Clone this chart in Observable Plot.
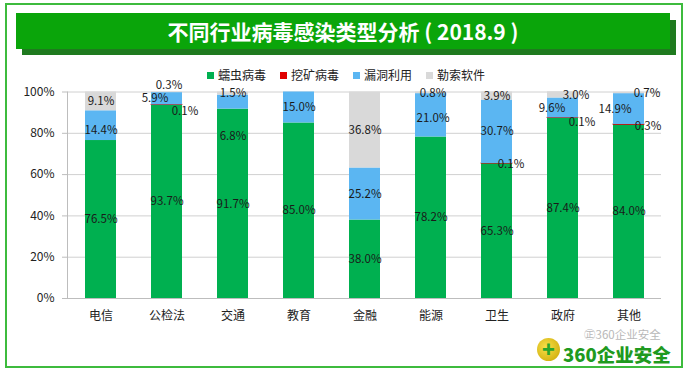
<!DOCTYPE html>
<html>
<head>
<meta charset="utf-8">
<script src="https://cdn.jsdelivr.net/npm/d3@7"></script>
<script src="https://cdn.jsdelivr.net/npm/@observablehq/plot@0.6"></script>
<style>
  html, body { margin: 0; padding: 0; background: #fff; }
  #wrap { position: relative; width: 687px; height: 371px; overflow: hidden; font-family: "Noto Sans CJK SC", "Noto Sans", sans-serif; }
  #frame { position: absolute; left: 5px; top: 3px; width: 674px; height: 361px; border: 2px solid #3dbb3d; }
  #shadow { position: absolute; left: 22px; top: 20px; width: 654px; height: 35px; background: #1f7a1f; }
  #banner { position: absolute; left: 16px; top: 13px; width: 654px; height: 36px; background: #0aa50a; color: #fff;
            font-size: 21px; font-weight: 700; text-align: center; line-height: 36px; }
  #legend { position: absolute; left: 207px; top: 66px; font-size: 12px; color: #222; white-space: nowrap; }
  #legend span.item { margin-right: 14px; }
  #legend span.sw { display: inline-block; width: 7px; height: 7px; margin-right: 4px; vertical-align: 1px; }
  #chart { position: absolute; left: 0; top: 0; }
  #wm1 { position: absolute; left: 584px; top: 329px; font-size: 11.5px; line-height: 11.5px; color: #b8b8b8; }
  #logo { position: absolute; left: 537px; top: 338px; width: 23px; height: 23px; border-radius: 50%; background: radial-gradient(circle at 40% 40%, #f7e04a, #c9a400); }
  #logo:after { content: "+"; position: absolute; left: 5px; top: -5px; color: #2aa52a; font-size: 21px; font-weight: 900; }
  #wm2 { position: absolute; left: 563px; top: 345px; font-size: 18.5px; line-height: 18.5px; font-weight: 900; color: #1f9a1f; }
</style>
</head>
<body>
<div id="wrap">
  <div id="chart"></div>
  <div id="frame"></div>
  <div id="shadow"></div>
  <div id="banner">不同行业病毒感染类型分析 ( 2018.9 )</div>
  <div id="legend"></div>
  <div id="wm1">㊣360企业安全</div>
  <div id="logo"></div>
  <div id="wm2">360企业安全</div>
</div>
<script>
const categories = ["电信", "公检法", "交通", "教育", "金融", "能源", "卫生", "政府", "其他"];
const seriesNames = ["蠕虫病毒", "挖矿病毒", "漏洞利用", "勒索软件"];
const worm   = [76.5, 93.7, 91.7, 85.0, 38.0, 78.2, 65.3, 87.4, 84.0];
const mining = [0,    0.1,  0,    0,    0,    0,    0.1,  0.1,  0.3];
const exploit= [14.4, 5.9,  6.8,  15.0, 25.2, 21.0, 30.7, 9.6,  14.9];
const ransom = [9.1,  0.3,  1.5,  0,    36.8, 0.8,  3.9,  3.0,  0.7];
const yTicks = [0, 20, 40, 60, 80, 100];
const colors = ["#00b050", "#e00000", "#5bb6f2", "#d9d9d9"];

// label nudges (styling of label placement, in px)
const nudge = {
  "电信|漏洞利用": [0, 5],
  "公检法|漏洞利用": [-12, 0],
  "公检法|勒索软件": [2, -7],
  "公检法|挖矿病毒": [18, 6],
  "交通|漏洞利用": [0, 34],
  "能源|漏洞利用": [2, 3],
  "能源|勒索软件": [2, 0],
  "卫生|挖矿病毒": [14, 1],
  "政府|勒索软件": [13, 0],
  "政府|漏洞利用": [-11, 0],
  "政府|挖矿病毒": [19, 4],
  "其他|勒索软件": [18, 0],
  "其他|漏洞利用": [-14, 0],
  "其他|挖矿病毒": [19, 2]
};

const seriesVals = [worm, mining, exploit, ransom];
const rows = [];
categories.forEach((c, i) => {
  let base = 0;
  seriesVals.forEach((arr, s) => {
    const v = arr[i];
    const n = nudge[c + "|" + seriesNames[s]] || [0, 0];
    rows.push({cat: c, series: seriesNames[s], value: v, y1: base, y2: base + v, mid: base + v / 2, dx: n[0], dy: n[1]});
    base += v;
  });
});
const labeled = rows.filter(d => d.value > 0);

// legend
const leg = document.getElementById("legend");
seriesNames.forEach((n, i) => {
  const s = document.createElement("span");
  s.className = "item";
  s.innerHTML = `<span class="sw" style="background:${colors[i]}"></span>${n}`;
  leg.appendChild(s);
});

const labelMarks = labeled.map(d => Plot.text([d], {
  x: "cat", y: "mid", text: r => r.value.toFixed(1) + "%",
  dx: d.dx, dy: d.dy, fill: "#1a1a1a", fontSize: 11.5
}));

const chart = Plot.plot({
  width: 687,
  height: 371,
  marginLeft: 67,
  marginRight: 26,
  marginTop: 91.5,
  marginBottom: 73,
  style: {fontFamily: "'Noto Sans CJK SC', 'Noto Sans', sans-serif", fontSize: "12px", color: "#222", background: "transparent"},
  x: {domain: categories, paddingInner: 0.535, paddingOuter: 0.2675, label: null},
  y: {domain: [0, 100], label: null},
  color: {domain: seriesNames, range: colors},
  marks: [
    Plot.gridY(yTicks, {stroke: "#d0d0d0", strokeOpacity: 1}),
    Plot.barY(rows, {x: "cat", y1: "y1", y2: "y2", fill: "series", stroke: d => d.series === "挖矿病毒" ? "#b01010" : "none", strokeWidth: 0.8}),
    ...labelMarks,
    Plot.ruleY([0], {stroke: "#bdbdbd"}),
    Plot.axisY(yTicks, {tickFormat: d => d + "%", tickSize: 5, tickPadding: 8, stroke: "#bdbdbd", fill: "#222", fontSize: 12}),
    Plot.axisX({tickSize: 0, tickPadding: 13, fill: "#222", fontSize: 12})
  ]
});
document.getElementById("chart").appendChild(chart);

// y axis line, positioned through the y scale
const ys = chart.scale("y");
d3.select(chart).append("line")
  .attr("x1", 67.5).attr("x2", 67.5)
  .attr("y1", ys.apply(0)).attr("y2", ys.apply(100))
  .attr("stroke", "#bdbdbd");
</script>
</body>
</html>
